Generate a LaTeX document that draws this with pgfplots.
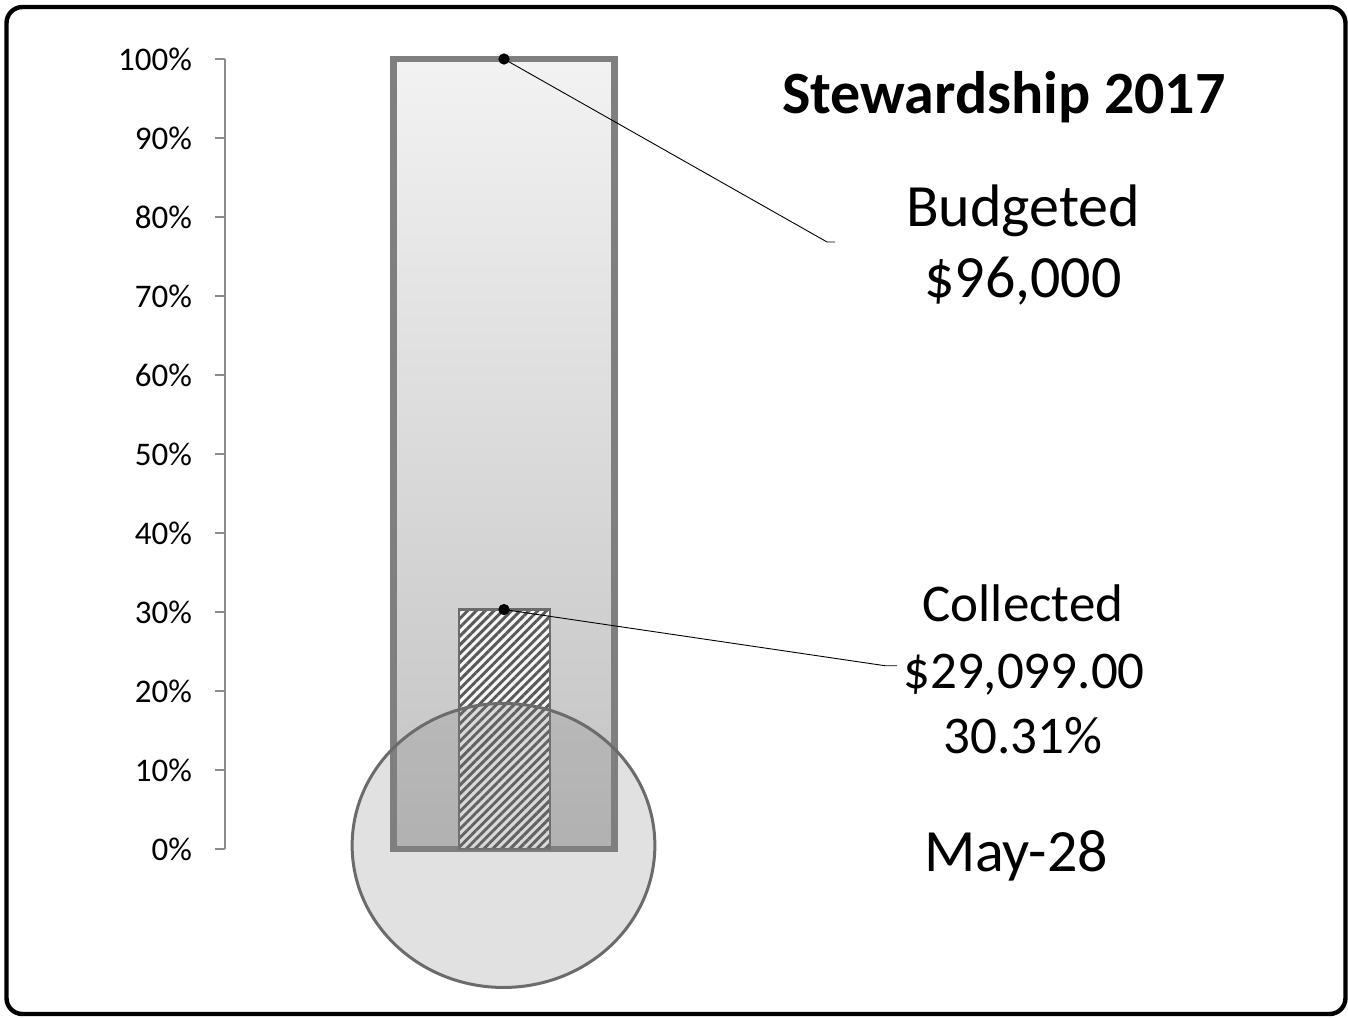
\documentclass[border=0pt]{standalone}
\usepackage{pgfplots}
\pgfplotsset{compat=1.18}
\usepackage{fontspec}
\setmainfont{Carlito}
\usetikzlibrary{patterns.meta}

\definecolor{barline}{HTML}{7F7F7F}
\definecolor{axisgray}{HTML}{8C8C8C}

\begin{document}
\begin{tikzpicture}
\begin{axis}[
    scale only axis,
    width=550pt,
    height=395pt,
    xmin=225, xmax=1325,
    ymin=0, ymax=100,
    clip=false,
    hide x axis,
    axis y line*=left,
    y axis line style={axisgray, line width=0.6pt},
    ytick={0,10,...,100},
    yticklabel={\pgfmathprintnumber{\tick}\%},
    tick align=outside,
    major tick length=5pt,
    ytick style={axisgray, line width=0.6pt},
    yticklabel style={font=\fontsize{16.5}{19}\selectfont, xshift=-8pt,
        /pgf/number format/assume math mode=true},
    ]
% budget bar (100%)
\addplot[ybar, bar width=110.5pt, draw=barline, line width=3.2pt,
    top color=black!5, bottom color=black!24] coordinates {(504,100)};
% bulb
\addplot[only marks, mark=*, mark size=71pt,
    mark options={xscale=1.066, fill=black!50, fill opacity=0.24, draw=black!58, draw opacity=1, line width=1.5pt}]
    coordinates {(503.5,0.45)};
% collected bar
\addplot[ybar, bar width=45.5pt, draw=black!58, line width=1.1pt, fill=white, fill opacity=0.85,
    postaction={pattern={Lines[angle=45, distance=3.1pt, line width=1.45pt]}, pattern color=black!65, fill opacity=1}]
    coordinates {(504.5,30.31)};
% leader lines
\addplot[black, line width=0.45pt] coordinates {(504,100) (827,76.84) (835,76.84)};
\addplot[black, line width=0.45pt] coordinates {(504,30.31) (885,23.2) (897,23.2)};
\addplot[only marks, mark=*, mark size=2.6pt, black] coordinates {(504,100) (504,30.31)};

\node[anchor=base, font=\fontsize{30}{36}\selectfont\bfseries] at (axis cs:1004,93.15) {Stewardship 2017};
\node[anchor=base, font=\fontsize{30}{36}\selectfont] at (axis cs:1023,78.8) {Budgeted};
\node[anchor=base, font=\fontsize{30}{36}\selectfont] at (axis cs:1023,69.75) {\$96,000};
\node[anchor=base, font=\fontsize{26.5}{32}\selectfont] at (axis cs:1023,28.85) {Collected};
\node[anchor=base, font=\fontsize{26.5}{32}\selectfont] at (axis cs:1024,20.35) {\$29,099.00};
\node[anchor=base, font=\fontsize{26.5}{32}\selectfont] at (axis cs:1023,12.15) {30.31\%};
\node[anchor=base, font=\fontsize{30}{36}\selectfont] at (axis cs:1016,-2.9) {May-28};

\coordinate (fbl) at (axis cs:6.5,-20.89);
\coordinate (ftr) at (axis cs:1345.5,106.58);
\coordinate (bbl) at (axis cs:0,-21.27);
\coordinate (btr) at (axis cs:1348,107.47);
\end{axis}
\draw[black, line width=2.2pt, rounded corners=8pt] (fbl) rectangle (ftr);
\pgfresetboundingbox
\path[use as bounding box] (bbl) rectangle (btr);
\end{tikzpicture}
\end{document}
